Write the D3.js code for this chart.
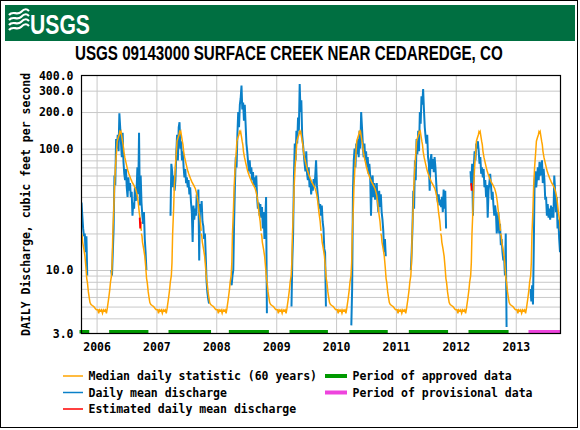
<!DOCTYPE html>
<html><head><meta charset="utf-8">
<script src="https://cdn.jsdelivr.net/npm/d3@7"></script>
<style>body{margin:0;background:#fff}svg{display:block}</style>
</head><body><svg id="c" width="580" height="430"></svg>
<script>
// ---------- data ----------
const chartTitle = "USGS 09143000 SURFACE CREEK NEAR CEDAREDGE, CO";
const yAxisTitle = "DAILY Discharge, cubic feet per second";
const yTickValues = [3, 10, 100, 200, 300, 400];
const yTickLabels = ["3.0", "10.0", "100.0", "200.0", "300.0", "400.0"];
const yGridValues = [4,5,6,7,8,9,10,20,30,40,50,60,70,80,90,100,200,300];
const xTickDates = ["2006-01-01","2007-01-01","2008-01-01","2009-01-01","2010-01-01","2011-01-01","2012-01-01","2013-01-01"];
const xTickLabels = ["2006","2007","2008","2009","2010","2011","2012","2013"];
const waterYearStarts = ["2005-10-01","2006-10-01","2007-10-01","2008-10-01","2009-10-01","2010-10-01","2011-10-01","2012-10-01"];

// median daily statistic by day of water year (days after Oct 1)
const medianDays = [0,4,7,14,21,27,32,36,42,48,52,58,66,75,85,91,100,105,110,116,122,128,134,140,146,152,157,163,167,173,177,183,187,191,197,201,207,214,218,224,230,234,238,241,244,250,254,258,264,270,278,284,289,299,309,319,329,335,340,346,352,360,365];
const medianVals = [20,19,17,15,13,10.5,8.5,7.9,6.6,5.8,5.4,5.2,5.1,5.0,4.8,4.7,4.7,4.4,4.7,4.6,4.7,4.4,4.7,4.6,4.7,4.4,4.8,5.5,6,7,8,9,11.5,20,32,48,70,95,115,123,130,138,135,138,130,115,108,95,85,78,70,65,62,57,53,50,47,44,41,36,30,25,21];

// daily mean discharge, sampled every 5 days from each season start
const seasonStep = 5;
const seasonStarts = ["2005-10-01","2006-03-31","2007-03-28","2008-03-30","2009-04-04","2010-04-04","2011-04-02","2012-03-31","2013-04-01"];
const flow2005 = [36,28,22,19,20,14,19,9];
const flow2006 = [10,9,14,22,60,50,120,100,130,95,195,150,110,85,135,78,62,55,68,48,40,58,45,52,40,44,28,36,32,48,37,45,70,42,135,34,60,36,28,24,30,18,14,10];
const flow2007 = [28,75,65,48,60,45,55,90,130,80,150,165,100,115,80,95,70,58,68,52,58,48,55,42,48,36,30,17,34,26,32,28,42,36,46,12,35,30,37,25,23,18,20,13,8,6.5,5.8,5.3];
const flow2008 = [8,7.5,9,10,25,50,85,70,130,200,150,230,260,330,210,240,170,230,160,110,95,78,65,80,62,70,55,64,50,58,48,60,40,32,36,28,35,27,33,22,30,18,25,40,4.4];
const flow2009 = [5,12,20,60,110,80,140,110,180,140,340,200,250,130,110,90,75,65,95,62,55,70,48,55,42,52,45,56,48,60,80,50,42,36,32,35,28,34,25,22,15,14,5];
const flow2010 = [3.5,7,45,80,100,70,110,90,120,85,140,100,200,150,110,85,110,80,95,70,85,62,75,60,28,55,60,40,52,38,44,52,36,30,45,33,42,30,26,21,14,18,13];
const flow2011 = [10,14,22,45,32,80,55,120,90,140,95,200,160,270,230,310,210,150,125,110,130,85,75,45,80,90,68,82,64,85,70,52,40,36,42,34,38,33,40,30,46,32,45,22];
const flow2012 = [65,50,75,28,70,95,80,110,100,115,95,75,85,62,70,58,68,48,55,40,50,27,45,52,62,50,38,44,34,28,34,30,20,24,30,20,24,16,18,14,12,13,9,20,3.4];
const flow2013 = [7,5.5,7.5,5.2,15,55,65,48,58,70,55,78,60,68,80,52,68,55,38,40,28,35,27,32,26,34,27,33,27,60,45,30,40,22,26,18,14];

// estimated daily mean discharge
const estimatedDates = [["2006-09-21","2006-09-24","2006-09-27"],["2012-04-04","2012-04-07"]];
const estimatedVals = [[27,22,25],[52,45]];

// data approval periods
const approvedStart = ["2005-10-01","2006-03-31","2007-03-28","2008-03-30","2009-04-04","2010-04-04","2011-04-02","2012-03-31"];
const approvedEnd   = ["2005-11-05","2006-11-01","2007-11-18","2008-11-05","2009-10-31","2010-10-31","2011-11-03","2012-11-06"];
const provisionalStart = ["2013-04-01"];
const provisionalEnd   = ["2013-09-30"];

const legendLeft = [
  {label:"Median daily statistic (60 years)", color:"#ffa500"},
  {label:"Daily mean discharge", color:"#0a80c8"},
  {label:"Estimated daily mean discharge", color:"#ff0000"}];
const legendRight = [
  {label:"Period of approved data", color:"#009900"},
  {label:"Period of provisional data", color:"#ee44dd"}];

// ---------- drawing ----------
const parse = d3.timeParse("%Y-%m-%d");
const svg = d3.select("#c");
const mono = "'DejaVu Sans Mono', monospace";
const sans = "'Liberation Sans', Arial, sans-serif";
const L = 81.5, R = 560.5, T = 75.5, B = 333.5;

const x = d3.scaleTime().domain([parse("2005-10-01"), parse("2013-10-01")]).range([L, R]);
const y = d3.scaleLog().domain([3, 400]).range([B, T]);

// outer border
svg.append("rect").attr("x",0.5).attr("y",0.5).attr("width",577).attr("height",427)
  .attr("fill","#fff").attr("stroke","#000");

// header
svg.append("rect").attr("x",5).attr("y",5).attr("width",570).attr("height",36).attr("fill","#006f41");
const logo = svg.append("g").attr("fill","none").attr("stroke","#fff").attr("stroke-width",2.2);
[15,20,25,30].forEach(yy=>{
  logo.append("path").attr("d",`M9,${yy} C13,${yy-5} 17,${yy+1} 21,${yy-3} S27,${yy-6} 29,${yy-4}`);
});
// condensed text helper: scale horizontally to a target width
function condensed(xPos, yPos, size, target, txt, fill){
  const g = svg.append("g");
  const t = g.append("text").attr("font-family",sans).attr("font-weight","bold")
    .attr("font-size",size).attr("fill",fill).text(txt);
  const w = t.node().getComputedTextLength();
  g.attr("transform",`translate(${xPos},${yPos}) scale(${target/w},1)`);
  return g;
}
condensed(30, 34, 28, 60, "USGS", "#fff");
condensed(75, 60, 20, 428, chartTitle, "#000");

// grid
const grid = svg.append("g");
grid.append("g").attr("transform",`translate(${L},0)`)
  .call(d3.axisLeft(y).tickValues(yGridValues).tickSize(-(R-L)).tickFormat(""))
  .call(g=>{g.select(".domain").remove(); g.selectAll("line").attr("stroke","#c8c8c8");});
grid.append("g").attr("transform",`translate(0,${B})`)
  .call(d3.axisBottom(x).tickValues(xTickDates.map(parse)).tickSize(-(B-T)).tickFormat(""))
  .call(g=>{g.select(".domain").remove(); g.selectAll("line").attr("stroke","#c8c8c8");});

// clip
svg.append("clipPath").attr("id","clip").append("rect").attr("x",L).attr("y",T).attr("width",R-L).attr("height",B-T);
const plot = svg.append("g").attr("clip-path","url(#clip)");

const line = d3.line().x(d=>x(d[0])).y(d=>y(d[1]));

// daily mean discharge
const seasons = [flow2005,flow2006,flow2007,flow2008,flow2009,flow2010,flow2011,flow2012,flow2013];
seasons.forEach((vals,k)=>{
  const s = parse(seasonStarts[k]);
  const pts = vals.map((v,i)=>[d3.timeDay.offset(s, i*seasonStep), v]);
  plot.append("path").attr("d",line(pts)).attr("fill","none").attr("stroke","#0a80c8").attr("stroke-width",2);
});

// median
waterYearStarts.forEach(ws=>{
  const s = parse(ws);
  const pts = medianDays.map((d,i)=>[d3.timeDay.offset(s,d), medianVals[i]]);
  plot.append("path").attr("d",line(pts)).attr("fill","none").attr("stroke","#ffa500").attr("stroke-width",1.5);
});

// estimated
estimatedDates.forEach((ds,k)=>{
  const pts = ds.map((d,i)=>[parse(d), estimatedVals[k][i]]);
  plot.append("path").attr("d",line(pts)).attr("fill","none").attr("stroke","#ff0000").attr("stroke-width",1.8);
});

// approval bars
approvedStart.forEach((s,i)=>{
  svg.append("rect").attr("x",x(parse(s))-2).attr("y",B-3.5)
    .attr("width",x(parse(approvedEnd[i]))-x(parse(s))+4).attr("height",3.5).attr("fill","#009900");
});
provisionalStart.forEach((s,i)=>{
  svg.append("rect").attr("x",x(parse(s))-2).attr("y",B-3.5)
    .attr("width",x(parse(provisionalEnd[i]))-x(parse(s))+2).attr("height",3.5).attr("fill","#ee44dd");
});

// frame
svg.append("rect").attr("x",L).attr("y",T).attr("width",R-L).attr("height",B-T)
  .attr("fill","none").attr("stroke","#000").attr("stroke-width",1.2);

// y tick labels
svg.append("g").attr("transform",`translate(${L},0)`)
  .call(d3.axisLeft(y).tickValues(yTickValues).tickSize(0).tickPadding(8).tickFormat((d,i)=>yTickLabels[i]))
  .call(g=>{g.select(".domain").remove();
    g.selectAll("text").attr("font-family",mono).attr("font-weight","bold").attr("font-size",11.5).attr("fill","#000");});

// x tick labels
svg.append("g").attr("transform",`translate(0,${B})`)
  .call(d3.axisBottom(x).tickValues(xTickDates.map(parse)).tickSize(0).tickPadding(9).tickFormat((d,i)=>xTickLabels[i]))
  .call(g=>{g.select(".domain").remove();
    g.selectAll("text").attr("font-family",mono).attr("font-weight","bold").attr("font-size",11.5).attr("fill","#000");});

// y axis title
svg.append("text").attr("transform",`translate(30,${(T+B)/2}) rotate(-90)`).attr("text-anchor","middle")
  .attr("font-family",mono).attr("font-weight","bold").attr("font-size",11.5).attr("fill","#000").text(yAxisTitle);

// legend
const rows = [376, 392.5, 409];
legendLeft.forEach((d,i)=>{
  svg.append("line").attr("x1",63).attr("x2",83).attr("y1",rows[i]).attr("y2",rows[i]).attr("stroke",d.color).attr("stroke-width",1.5);
  svg.append("text").attr("x",88.5).attr("y",rows[i]).attr("dy","0.36em").attr("font-family",mono).attr("font-weight","bold")
    .attr("font-size",11.5).attr("fill","#000").text(d.label);
});
legendRight.forEach((d,i)=>{
  svg.append("line").attr("x1",325).attr("x2",347).attr("y1",rows[i]).attr("y2",rows[i]).attr("stroke",d.color).attr("stroke-width",4);
  svg.append("text").attr("x",352.5).attr("y",rows[i]).attr("dy","0.36em").attr("font-family",mono).attr("font-weight","bold")
    .attr("font-size",11.5).attr("fill","#000").text(d.label);
});
</script></body></html>
